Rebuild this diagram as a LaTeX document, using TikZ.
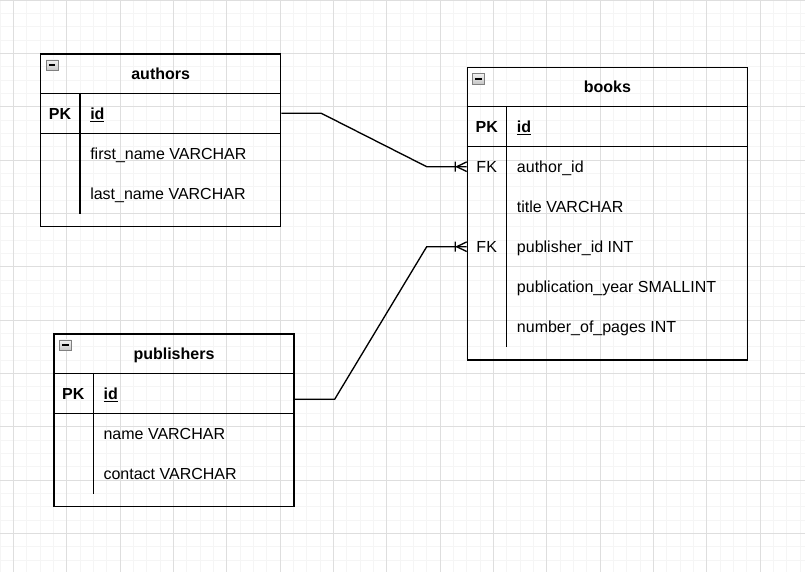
\documentclass[tikz,border=0pt]{standalone}
\usepackage{fontspec}
\setmainfont{Liberation Sans}
\usepackage{tikz}
\tikzstyle{entity} = [draw, line width=1pt, rectangle, anchor=north west,
    inner sep=0pt]
\tikzstyle{field} = [anchor=west, inner sep=0pt, text height=8.6pt,
    text depth=0pt, font=\fontsize{12}{14}\selectfont]
\tikzstyle{key} = [field, anchor=center]
\tikzstyle{bold} = [font=\fontsize{12}{14}\selectfont\bfseries]
\tikzstyle{rule} = [line width=1pt]
\tikzstyle{link} = [line width=1pt]
\tikzstyle{minorgrid} = [gray!8, line width=0.6pt]
\tikzstyle{majorgrid} = [gray!26, line width=0.6pt]
\tikzstyle{minus} = [draw=gray, top color=gray!10, bottom color=gray!45,
    line width=0.6pt, minimum width=9pt, minimum height=8pt, inner sep=0pt,
    path picture={\fill[black] ([xshift=-2.6pt,yshift=-0.6pt]path picture bounding box.center) rectangle ++(5.2pt,1.3pt);}]
\tikzset{crowfoot/.pic={\draw [link] (-10,0) -- (0,4.8) (-10,0) -- (0,-4.8)
    (-11.5,-5) -- (-11.5,5);}}

\begin{document}
\begin{tikzpicture}[x=0.75pt, y=-0.75pt]
  \useasboundingbox (0,0) rectangle (805,572);
  % background grid
  \foreach \i in {0,...,60} \draw [minorgrid] (\i*13.333,0) -- (\i*13.333,572);
  \foreach \j in {0,...,42} \draw [minorgrid] (0,\j*13.333) -- (805,\j*13.333);
  \foreach \i in {0,...,14} \draw [majorgrid] (13.333+\i*53.333,0) -- (13.333+\i*53.333,572);
  \foreach \j in {0,...,10} \draw [majorgrid] (0,\j*53.333) -- (805,\j*53.333);

  % tables
  \node [entity, minimum width=180pt, minimum height=129.5pt] (authors) at (40,53.3) {};
  \node [entity, minimum width=210pt, minimum height=219.5pt] (books) at (466.7,66.7) {};
  \node [entity, minimum width=180pt, minimum height=129.5pt] (publishers) at (53.3,333.3) {};
  \foreach \t in {authors,books,publishers} {
    \node [key, bold] (\t-title) at ([yshift=-15pt]\t.north) {\t};
    \node [minus] (\t-icon) at ([xshift=9pt,yshift=-9pt]\t.north west) {};
    \draw [rule] ([yshift=-30pt]\t.north west) -- ([yshift=-30pt]\t.north east);
    \draw [rule] ([yshift=-60pt]\t.north west) -- ([yshift=-60pt]\t.north east);
    \draw [rule] ([xshift=30pt,yshift=-30pt]\t.north west) -- ([xshift=30pt,yshift=10pt]\t.south west);
  }

  % authors
  \node [key, bold] (a-pk) at ([xshift=15pt,yshift=-45pt]authors.north west) {PK};
  \node [field, bold] (a-id) at ([xshift=37.5pt,yshift=-45pt]authors.north west) {\underline{id}};
  \node [field] (a-f1) at ([yshift=-30pt]a-id.west) {first\_name VARCHAR};
  \node [field] (a-f2) at ([yshift=-30pt]a-f1.west) {last\_name VARCHAR};

  % books
  \node [key, bold] (b-pk) at ([xshift=15pt,yshift=-45pt]books.north west) {PK};
  \node [field, bold] (b-id) at ([xshift=37.5pt,yshift=-45pt]books.north west) {\underline{id}};
  \node [field] (b-f1) at ([yshift=-30pt]b-id.west) {author\_id};
  \node [field] (b-f2) at ([yshift=-30pt]b-f1.west) {title VARCHAR};
  \node [field] (b-f3) at ([yshift=-30pt]b-f2.west) {publisher\_id INT};
  \node [field] (b-f4) at ([yshift=-30pt]b-f3.west) {publication\_year SMALLINT};
  \node [field] (b-f5) at ([yshift=-30pt]b-f4.west) {number\_of\_pages INT};
  \node [key] (b-fk1) at ([yshift=-30pt]b-pk) {FK};
  \node [key] (b-fk2) at ([yshift=-90pt]b-pk) {FK};

  % publishers
  \node [key, bold] (p-pk) at ([xshift=15pt,yshift=-45pt]publishers.north west) {PK};
  \node [field, bold] (p-id) at ([xshift=37.5pt,yshift=-45pt]publishers.north west) {\underline{id}};
  \node [field] (p-f1) at ([yshift=-30pt]p-id.west) {name VARCHAR};
  \node [field] (p-f2) at ([yshift=-30pt]p-f1.west) {contact VARCHAR};

  % relations
  \coordinate (a-out) at (authors.east |- a-id);
  \coordinate (p-out) at (publishers.east |- p-id);
  \coordinate (b-in1) at (books.west |- b-fk1);
  \coordinate (b-in2) at (books.west |- b-fk2);
  \draw [link] (a-out) -- ++(40,0) -- ([xshift=-30pt]b-in1) -- (b-in1);
  \draw [link] ([yshift=-4.5pt]p-out) -- ++(40,0) -- ([xshift=-30pt]b-in2) -- (b-in2);
  \pic at (b-in1) {crowfoot};
  \pic at (b-in2) {crowfoot};
\end{tikzpicture}
\end{document}
